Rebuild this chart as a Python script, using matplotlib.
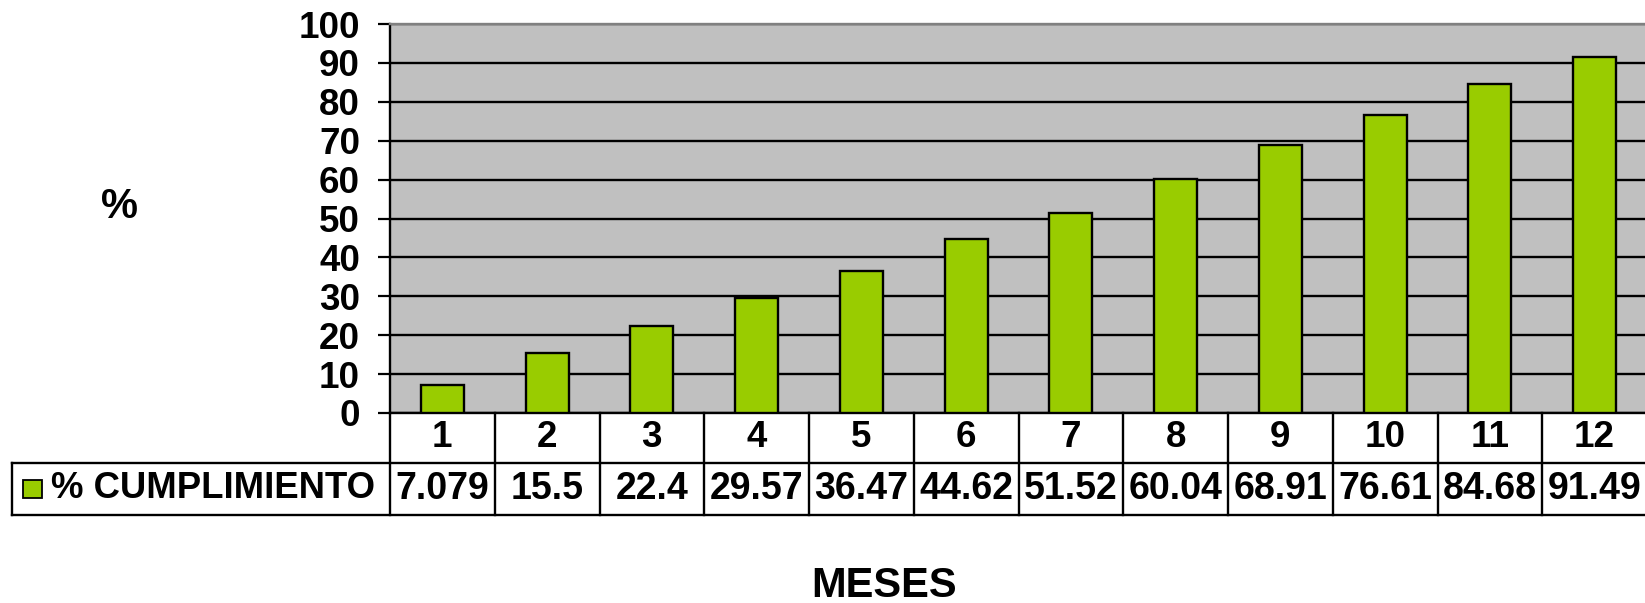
import matplotlib
matplotlib.use('Agg')
import matplotlib.pyplot as plt
from matplotlib.patches import Rectangle

# % de cumplimiento por mes
meses = [1, 2, 3, 4, 5, 6, 7, 8, 9, 10, 11, 12]
cumplimiento = [7.079, 15.5, 22.4, 29.57, 36.47, 44.62, 51.52, 60.04, 68.91, 76.61, 84.68, 91.49]
etiquetas_valor = ['7.079', '15.5', '22.4', '29.57', '36.47', '44.62', '51.52',
                   '60.04', '68.91', '76.61', '84.68', '91.49']
yticks = list(range(0, 101, 10))
serie = '% CUMPLIMIENTO'

verde = '#99CC00'
gris = '#C0C0C0'
plt.rcParams['font.family'] = ['Liberation Sans', 'DejaVu Sans']
plt.rcParams['font.weight'] = 'bold'

W, H = 1645, 603
fig = plt.figure(figsize=(W / 100, H / 100), dpi=100)
ax = fig.add_axes([390 / W, (H - 413) / H, 1257 / W, 389 / H])
ax.set_facecolor(gris)

x = [i + 0.5 for i in range(len(meses))]
ax.bar(x, cumplimiento, width=0.41, color=verde, edgecolor='black', linewidth=1.7, zorder=3)

ax.set_xlim(0, len(meses))
ax.set_ylim(0, 100)
ax.set_yticks(yticks)
ax.set_yticklabels([str(t) for t in yticks], fontsize=26.5, fontweight='bold')
ax.tick_params(axis='y', direction='out', length=8.6, width=1.6, pad=13)
ax.set_xticks([])
ax.set_axisbelow(True)
ax.yaxis.grid(True, color='black', linewidth=1.7)

ax.spines['right'].set_visible(False)
ax.spines['top'].set_color('#808080')
ax.spines['top'].set_linewidth(1.7)
for s in ['left', 'bottom']:
    ax.spines[s].set_linewidth(1.7)

# tabla de datos bajo el eje
tr = ax.get_xaxis_transform()
r1, r2 = -0.1285, -0.262
x_leg = -0.3007
lw = 1.7
for i in range(len(meses) + 1):
    ax.plot([i, i], [0, r2], transform=tr, color='black', lw=lw, clip_on=False)
ax.plot([x_leg, 1], [r1, r1], transform=ax.transAxes, color='black', lw=lw, clip_on=False)
ax.plot([x_leg, 1], [r2, r2], transform=ax.transAxes, color='black', lw=lw, clip_on=False)
ax.plot([x_leg, x_leg], [r1, r2], transform=ax.transAxes, color='black', lw=lw, clip_on=False)

for xi, m, v in zip(x, meses, etiquetas_valor):
    ax.text(xi, (0 + r1) / 2, str(m), transform=tr, ha='center', va='center',
            fontsize=26.5, fontweight='bold')
    ax.text(xi, (r1 + r2) / 2, v, transform=tr, ha='center', va='center',
            fontsize=27, fontweight='bold')

ax.add_patch(Rectangle((-0.292, (r1 + r2) / 2 - 0.0235), 0.015, 0.047, transform=ax.transAxes,
                       facecolor=verde, edgecolor='black', lw=1.3, clip_on=False))
ax.text(-0.2695, (r1 + r2) / 2, serie, transform=ax.transAxes, ha='left', va='center',
        fontsize=26.3, fontweight='bold')

fig.text(120 / W, 1 - 207 / H, '%', ha='center', va='center', fontsize=30, fontweight='bold')
fig.text(884 / W, 1 - 586 / H, 'MESES', ha='center', va='center', fontsize=30, fontweight='bold')

fig.savefig('out.png', dpi=100, facecolor='white')
